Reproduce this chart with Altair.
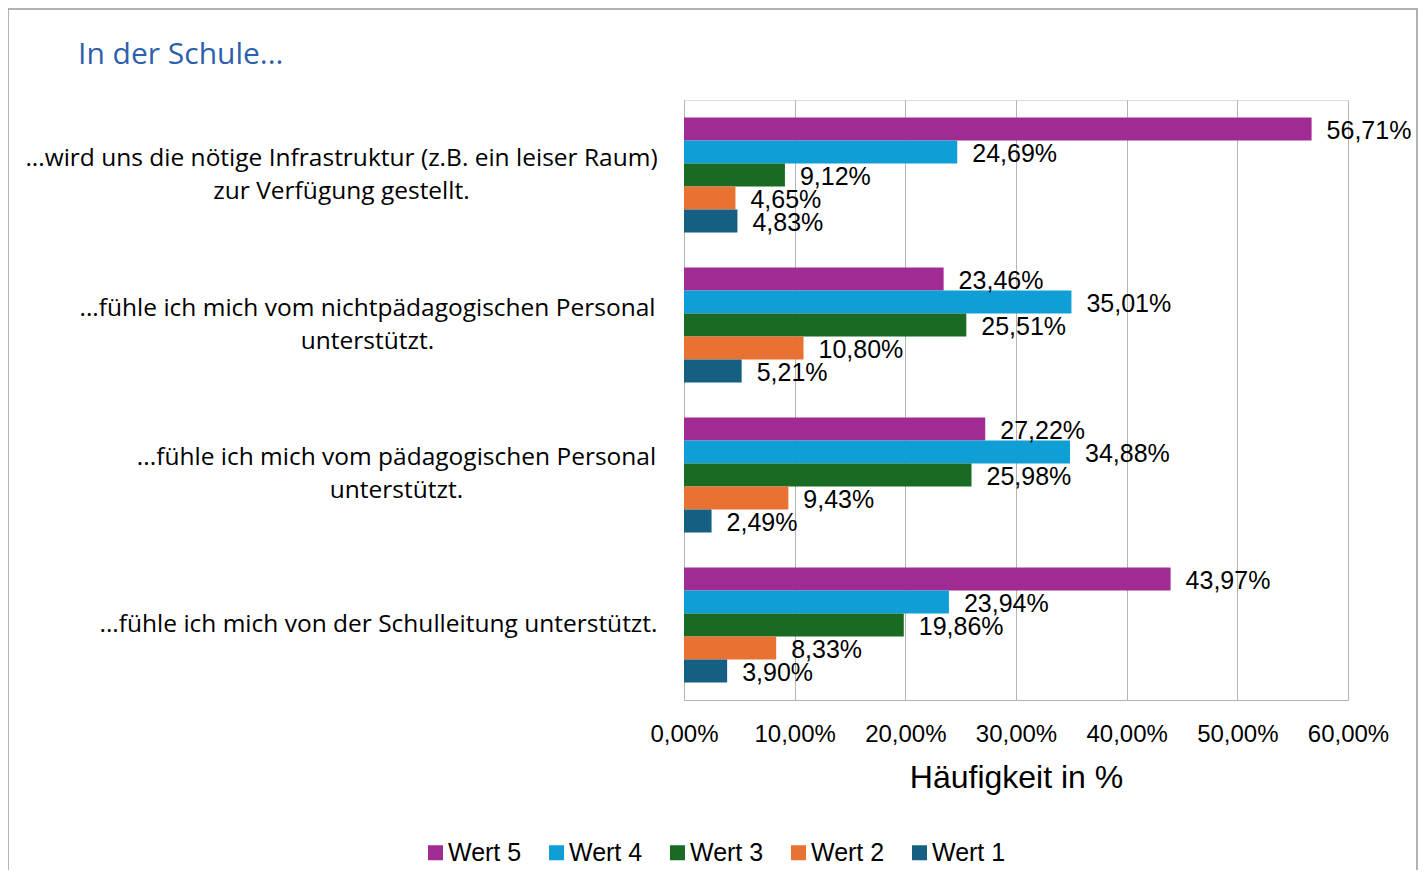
import altair as alt
import pandas as pd

categories = [
    "...wird uns die nötige Infrastruktur (z.B. ein leiser Raum) zur Verfügung gestellt.",
    "...fühle ich mich vom nichtpädagogischen Personal unterstützt.",
    "...fühle ich mich vom pädagogischen Personal unterstützt.",
    "...fühle ich mich von der Schulleitung unterstützt.",
]
label_lines = [
    ["...wird uns die nötige Infrastruktur (z.B. ein leiser Raum)", "zur Verfügung gestellt."],
    ["...fühle ich mich vom nichtpädagogischen Personal", "unterstützt."],
    ["...fühle ich mich vom pädagogischen Personal", "unterstützt."],
    ["...fühle ich mich von der Schulleitung unterstützt."],
]
series = ["Wert 5", "Wert 4", "Wert 3", "Wert 2", "Wert 1"]
wert5 = [56.71, 23.46, 27.22, 43.97]
wert4 = [24.69, 35.01, 34.88, 23.94]
wert3 = [9.12, 25.51, 25.98, 19.86]
wert2 = [4.65, 10.80, 9.43, 8.33]
wert1 = [4.83, 5.21, 2.49, 3.90]
colors = ["#A02B93", "#0F9ED5", "#196B24", "#E97132", "#156082"]
x_ticks = [0, 10, 20, 30, 40, 50, 60]
title_text = "In der Schule..."

# styling: distance from the axis to the centre of each (centred) label block
label_center_padding = [343, 317, 288, 306]
LINE_H = 33

rows = []
for s, vals in zip(series, [wert5, wert4, wert3, wert2, wert1]):
    for c, v in zip(categories, vals):
        rows.append({"Kategorie": c, "Serie": s, "Wert": v})
df = pd.DataFrame(rows)

# multi-line y labels
parts = []
for c, lines in zip(categories, label_lines):
    arr = "[" + ",".join("'" + l + "'" for l in lines) + "]"
    parts.append(f"datum.label == '{c}' ? {arr}")
label_expr = " : ".join(parts) + " : datum.label"

pad_cond = {
    "condition": [
        {"test": f"datum.label == '{c}'", "value": p}
        for c, p in zip(categories, label_center_padding)
    ],
    "value": 27,
}
off_cond = {
    "condition": [
        {"test": f"datum.label == '{c}'", "value": -(len(lines) - 1) * LINE_H / 2}
        for c, lines in zip(categories, label_lines)
    ],
    "value": 0,
}

FONT = "Liberation Sans"
LFONT = "Open Sans"

base = alt.Chart(df)

bars = base.mark_bar(size=23).encode(
    x=alt.X(
        "Wert:Q",
        scale=alt.Scale(domain=[0, 60], nice=False),
        axis=alt.Axis(
            values=x_ticks,
            labelExpr="replace(format(datum.value, '.2f'), '.', ',') + '%'",
            title="Häufigkeit in %",
            titleFont=FONT,
            titleFontSize=32,
            titleFontWeight="normal",
            titleColor="#000000",
            titlePadding=16,
            labelFont=FONT,
            labelFontSize=24,
            labelColor="#000000",
            labelPadding=22,
            ticks=False,
            grid=True,
            gridColor="#b4b4b4",
            domainColor="#b4b4b4",
            labelFlush=False,
        ),
    ),
    y=alt.Y(
        "Kategorie:N",
        sort=categories,
        scale=alt.Scale(paddingInner=0.2333, paddingOuter=0.1167),
        axis=alt.Axis(
            title=None,
            labelExpr=label_expr,
            labelFont=LFONT,
            labelFontSize=24.5,
            labelLineHeight=LINE_H,
            labelColor="#000000",
            labelAlign="center",
            labelPadding=pad_cond,
            labelOffset=off_cond,
            labelLimit=800,
            ticks=False,
            domainColor="#b4b4b4",
            grid=False,
        ),
    ),
    yOffset=alt.YOffset("Serie:N", sort=series),
    color=alt.Color(
        "Serie:N",
        sort=series,
        scale=alt.Scale(domain=series, range=colors),
        legend=alt.Legend(
            title=None,
            orient="none",
            direction="horizontal",
            legendX=-261,
            legendY=740,
            symbolType="square",
            symbolSize=225,
            symbolStrokeWidth=0,
            labelFont=FONT,
            labelFontSize=25,
            labelColor="#000000",
            labelOffset=0,
            columnPadding=22,
        ),
    ),
)

texts = base.transform_calculate(
    lbl="replace(format(datum.Wert, '.2f'), '.', ',') + '%'"
).mark_text(align="left", baseline="middle", dx=15, dy=2, font=FONT, fontSize=25, color="#000000").encode(
    x=alt.X("Wert:Q"),
    y=alt.Y("Kategorie:N", sort=categories),
    yOffset=alt.YOffset("Serie:N", sort=series),
    text="lbl:N",
)

deco = alt.Chart(pd.DataFrame({"t": [title_text]}))

frame = deco.mark_rect(
    fillOpacity=0, stroke="#9a9a9a", strokeWidth=1.5
).encode(
    x=alt.value(-676), x2=alt.value(733), y=alt.value(-91), y2=alt.value(820)
)

title = deco.mark_text(
    align="left", baseline="middle", font=LFONT, fontSize=30, color="#2F5FAC"
).encode(x=alt.value(-606), y=alt.value(-45), text="t:N")

chart = alt.layer(frame, title, bars, texts).properties(
    width=664,
    height=600,
    autosize=alt.AutoSizeParams(type="none"),
    padding={"left": 676, "top": 92, "right": 70, "bottom": 170},
).configure_view(stroke=None).configure(background="#ffffff")

chart.save("out.html", embed_options={"renderer": "svg", "actions": False})
